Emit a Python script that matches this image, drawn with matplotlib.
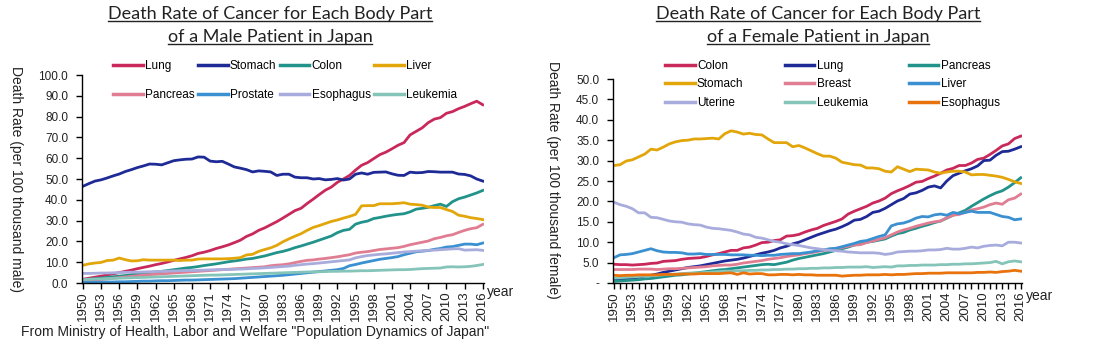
import matplotlib
matplotlib.use('Agg')
import matplotlib.pyplot as plt
from matplotlib.lines import Line2D
from matplotlib.ticker import MultipleLocator, FuncFormatter

years = list(range(1950, 2017))

# ---- male death rates (per 100 thousand) ----
m_lung = [1.8, 2.3, 2.8, 3.3, 3.9, 4.4, 5.0, 5.6, 6.2, 6.9,
          7.5, 8.1, 8.8, 9.4, 10.1, 10.9, 11.6, 12.3, 13.1, 14.2,
          14.8, 15.6, 16.6, 17.4, 18.3, 19.4, 20.6, 22.4, 23.6, 25.3,
          26.5, 28.0, 29.5, 31.2, 33.0, 34.8, 35.9, 38.2, 40.3, 42.5,
          44.6, 46.1, 48.4, 50.0, 51.7, 54.3, 56.6, 57.9, 59.8, 61.7,
          62.9, 64.5, 66.2, 67.5, 71.2, 72.9, 74.6, 77.1, 78.8, 79.5,
          81.6, 82.4, 83.8, 84.9, 86.2, 87.4, 85.7]
m_stomach = [46.5, 47.8, 49.0, 49.6, 50.5, 51.5, 52.4, 53.6, 54.5, 55.5,
             56.3, 57.2, 57.1, 56.8, 57.8, 58.8, 59.2, 59.5, 59.6, 60.6,
             60.5, 58.6, 58.3, 58.5, 57.2, 55.8, 55.2, 54.5, 53.4, 53.9,
             53.7, 53.4, 51.7, 52.3, 52.3, 50.9, 50.6, 50.6, 50.0, 50.2,
             49.6, 49.8, 50.2, 49.5, 50.0, 52.3, 52.9, 52.3, 53.2, 53.3,
             53.4, 52.5, 51.8, 51.7, 53.3, 53.0, 53.1, 53.6, 53.5, 53.3,
             53.3, 53.3, 52.4, 52.2, 51.5, 50.0, 49.0]
m_colon = [1.5, 1.8, 2.1, 2.4, 2.7, 3.0, 3.3, 3.6, 4.0, 4.3,
           4.7, 5.0, 5.3, 5.6, 6.0, 6.4, 6.8, 7.2, 7.5, 7.9,
           8.4, 8.8, 9.2, 9.7, 10.2, 10.6, 11.0, 11.5, 11.8, 12.4,
           13.0, 13.8, 14.6, 15.2, 16.0, 17.0, 17.8, 18.7, 19.6, 20.6,
           21.6, 22.6, 24.2, 25.3, 25.8, 28.3, 29.2, 29.8, 31.0, 31.5,
           32.1, 32.6, 33.0, 33.3, 34.2, 35.5, 35.9, 36.4, 37.2, 37.9,
           36.8, 39.1, 40.5, 41.3, 42.3, 43.3, 44.5]
m_liver = [8.5, 9.2, 9.6, 9.9, 10.8, 11.0, 12.0, 11.2, 10.6, 10.7,
           11.2, 11.0, 11.0, 11.0, 11.0, 11.0, 10.8, 11.0, 11.0, 11.5,
           11.6, 11.6, 11.6, 11.6, 11.7, 11.9, 12.2, 13.5, 13.8, 15.2,
           16.1, 16.9, 18.1, 19.8, 21.2, 22.5, 23.7, 25.3, 26.7, 27.6,
           28.6, 29.6, 30.3, 31.2, 32.0, 33.0, 37.1, 37.2, 37.2, 38.1,
           38.1, 38.1, 38.3, 38.6, 37.9, 37.7, 37.4, 36.5, 36.3, 36.3,
           35.3, 34.4, 32.6, 32.1, 31.4, 31.0, 30.5]
m_pancreas = [1.0, 1.2, 1.4, 1.7, 2.0, 2.3, 2.6, 2.9, 3.2, 3.5,
              3.8, 4.0, 4.2, 4.4, 4.6, 4.8, 5.0, 5.2, 5.4, 5.6,
              5.8, 6.0, 6.2, 6.4, 6.6, 6.8, 7.0, 7.2, 7.4, 7.6,
              7.8, 8.3, 8.6, 8.8, 9.2, 9.8, 10.4, 10.9, 11.1, 11.5,
              11.8, 12.2, 12.6, 13.1, 13.6, 14.4, 14.8, 15.1, 15.6, 16.1,
              16.4, 16.7, 17.0, 17.6, 18.4, 19.0, 19.6, 20.2, 21.3, 21.9,
              22.7, 23.2, 24.3, 25.3, 26.1, 26.6, 28.2]
m_prostate = [0.3, 0.3, 0.4, 0.4, 0.5, 0.5, 0.6, 0.6, 0.7, 0.8,
              0.9, 0.9, 1.0, 1.1, 1.1, 1.2, 1.3, 1.4, 1.4, 1.5,
              1.6, 1.7, 1.8, 1.9, 2.0, 2.1, 2.3, 2.5, 2.7, 2.9,
              3.1, 3.3, 3.5, 3.7, 4.0, 4.3, 4.6, 4.9, 5.2, 5.5,
              5.8, 6.1, 6.4, 7.0, 8.3, 8.9, 9.6, 10.2, 10.8, 11.4,
              11.8, 12.2, 12.7, 13.6, 14.3, 15.0, 15.3, 15.6, 16.2, 16.6,
              17.3, 17.5, 18.1, 18.7, 18.7, 18.4, 19.2]
m_esophagus = [4.6, 4.6, 4.7, 4.8, 4.8, 4.9, 5.0, 5.1, 5.2, 5.2,
               5.3, 5.4, 5.5, 5.6, 5.7, 5.8, 5.9, 6.0, 6.0, 6.1,
               6.2, 6.3, 6.4, 6.5, 6.5, 6.6, 6.7, 6.8, 7.0, 7.1,
               7.3, 7.5, 7.7, 7.9, 8.1, 8.5, 8.8, 9.1, 9.3, 9.6,
               9.9, 10.2, 10.5, 10.8, 11.1, 12.1, 12.7, 13.2, 13.5, 13.8,
               14.0, 14.3, 14.6, 14.9, 15.1, 15.3, 15.5, 15.7, 15.8, 16.0,
               16.2, 16.4, 16.5, 15.8, 15.9, 16.0, 15.7]
m_leukemia = [1.6, 1.8, 1.9, 2.0, 2.1, 2.2, 2.3, 2.4, 2.5, 2.6,
              2.7, 2.8, 2.9, 3.0, 3.1, 3.2, 3.3, 3.4, 3.5, 3.6,
              3.7, 3.8, 3.8, 3.9, 4.0, 4.1, 4.2, 4.3, 4.4, 4.5,
              4.6, 4.7, 4.8, 4.9, 5.0, 5.1, 5.2, 5.3, 5.4, 5.4,
              5.5, 5.6, 5.6, 5.7, 5.7, 5.8, 5.9, 5.9, 6.0, 6.1,
              6.2, 6.3, 6.4, 6.4, 6.5, 6.7, 6.9, 7.0, 7.1, 7.2,
              7.7, 7.8, 7.7, 7.8, 8.0, 8.4, 8.9]

# ---- female death rates (per 100 thousand) ----
f_colon = [4.6, 4.5, 4.5, 4.4, 4.5, 4.6, 4.8, 4.9, 5.3, 5.4,
           5.5, 5.8, 6.0, 6.1, 6.2, 6.5, 6.9, 7.2, 7.6, 8.0,
           8.0, 8.6, 8.8, 9.3, 9.9, 10.0, 10.4, 10.6, 11.5, 11.6,
           11.9, 12.5, 13.0, 13.4, 14.1, 14.6, 15.1, 15.7, 16.9, 17.6,
           18.2, 18.8, 19.6, 20.1, 20.8, 21.9, 22.6, 23.2, 23.9, 24.7,
           24.9, 25.6, 26.2, 26.9, 27.7, 28.1, 28.8, 28.8, 29.4, 30.3,
           30.6, 31.5, 32.5, 33.6, 34.1, 35.4, 36.0]
f_lung = [0.6, 0.8, 1.0, 1.2, 1.4, 1.7, 1.9, 2.2, 2.6, 2.9,
          3.2, 3.5, 3.8, 4.0, 4.2, 4.5, 4.8, 5.1, 5.4, 5.6,
          5.8, 6.1, 6.5, 6.9, 7.3, 7.6, 8.0, 8.6, 9.0, 9.6,
          10.0, 10.6, 11.2, 11.8, 12.3, 12.8, 13.2, 13.8, 14.5, 15.4,
          15.6, 16.3, 17.3, 17.6, 18.3, 19.2, 20.1, 20.7, 21.8, 22.1,
          22.7, 23.5, 23.8, 23.3, 25.0, 26.3, 26.9, 27.5, 28.0, 28.7,
          30.0, 30.1, 31.3, 32.2, 32.3, 32.8, 33.4]
f_pancreas = [0.4, 0.5, 0.6, 0.7, 0.8, 1.0, 1.1, 1.3, 1.5, 1.7,
              1.9, 2.0, 2.2, 2.4, 2.6, 2.8, 3.0, 3.2, 3.3, 3.5,
              3.7, 3.9, 4.1, 4.3, 4.5, 4.6, 4.5, 4.8, 5.1, 5.6,
              6.0, 6.3, 6.6, 6.9, 7.2, 7.6, 8.0, 8.4, 8.8, 9.3,
              9.6, 10.0, 10.2, 10.5, 10.8, 11.5, 12.1, 12.4, 13.0, 13.4,
              13.9, 14.3, 14.8, 15.2, 15.9, 16.6, 17.2, 17.8, 18.8, 19.7,
              20.6, 21.4, 22.1, 22.6, 23.5, 24.6, 25.8]
f_stomach = [28.8, 29.0, 29.9, 30.2, 30.9, 31.6, 32.8, 32.6, 33.3, 34.1,
             34.6, 34.9, 35.0, 35.3, 35.3, 35.4, 35.5, 35.3, 36.6, 37.3,
             37.0, 36.5, 36.7, 36.4, 36.3, 35.3, 34.4, 34.4, 34.4, 33.4,
             33.7, 33.1, 32.4, 31.7, 31.1, 31.1, 30.6, 29.6, 29.3, 29.0,
             28.9, 28.2, 28.2, 28.0, 27.4, 27.2, 28.5, 27.9, 27.3, 27.9,
             27.8, 27.7, 27.2, 26.9, 27.2, 27.4, 27.4, 27.2, 26.5, 26.6,
             26.6, 26.4, 26.2, 25.9, 25.4, 24.8, 24.4]
f_breast = [3.3, 3.3, 3.3, 3.3, 3.4, 3.4, 3.4, 3.3, 3.4, 3.5,
            3.5, 3.6, 3.7, 3.8, 3.9, 4.0, 4.2, 4.3, 4.4, 4.4,
            4.6, 4.9, 5.1, 5.3, 5.5, 5.8, 6.0, 6.2, 6.5, 6.7,
            6.9, 7.2, 7.4, 7.7, 8.0, 8.2, 8.5, 8.7, 9.0, 9.3,
            9.4, 9.9, 10.3, 10.7, 11.1, 11.8, 12.5, 13.0, 13.4, 13.9,
            14.3, 14.7, 15.0, 15.2, 16.0, 16.6, 16.8, 17.3, 17.9, 18.2,
            18.6, 19.2, 19.6, 19.3, 20.4, 20.8, 21.8]
f_liver = [6.2, 6.9, 7.0, 7.2, 7.6, 8.0, 8.4, 7.9, 7.6, 7.5,
           7.5, 7.4, 7.1, 7.1, 7.2, 7.0, 7.0, 7.0, 7.0, 6.9,
           6.9, 6.9, 6.8, 6.8, 6.7, 6.8, 6.8, 7.0, 7.1, 7.2,
           7.2, 7.4, 7.6, 7.9, 8.1, 8.4, 8.5, 8.9, 9.3, 9.7,
           10.2, 10.4, 10.9, 11.4, 11.8, 14.0, 14.5, 14.7, 15.2, 15.9,
           16.3, 16.2, 16.7, 16.9, 16.6, 17.3, 17.0, 17.3, 17.6, 17.3,
           17.3, 17.3, 16.8, 16.3, 16.1, 15.5, 15.7]
f_uterine = [19.8, 19.2, 18.8, 18.2, 17.2, 17.2, 16.1, 16.0, 15.6, 15.2,
             15.0, 14.9, 14.5, 14.3, 14.2, 13.7, 13.4, 13.3, 13.1, 12.9,
             12.5, 12.0, 11.8, 11.2, 11.0, 10.6, 10.2, 10.0, 9.6, 9.4,
             9.2, 8.9, 8.6, 8.4, 8.2, 8.0, 7.9, 7.8, 7.6, 7.5,
             7.4, 7.4, 7.4, 7.3, 7.0, 7.2, 7.6, 7.7, 7.8, 7.8,
             7.9, 8.1, 8.1, 8.2, 8.5, 8.3, 8.3, 8.5, 8.8, 8.6,
             9.0, 9.2, 9.3, 9.1, 10.0, 10.0, 9.8]
f_leukemia = [1.2, 1.3, 1.4, 1.5, 1.6, 1.7, 1.8, 1.9, 2.0, 2.1,
              2.2, 2.3, 2.4, 2.5, 2.5, 2.6, 2.7, 2.8, 2.9, 2.9,
              3.0, 3.0, 3.1, 3.1, 3.2, 3.2, 3.3, 3.3, 3.4, 3.4,
              3.5, 3.5, 3.6, 3.6, 3.7, 3.7, 3.8, 3.8, 3.9, 3.9,
              3.9, 4.0, 3.8, 3.9, 4.0, 3.9, 4.2, 4.2, 4.3, 4.3,
              4.4, 4.4, 4.4, 4.5, 4.5, 4.6, 4.6, 4.7, 4.7, 4.8,
              4.9, 5.0, 5.3, 4.7, 5.2, 5.4, 5.2]
f_esophagus = [1.9, 1.8, 1.9, 1.9, 2.0, 2.0, 2.0, 2.0, 2.1, 2.1,
               2.1, 2.2, 2.2, 2.2, 2.3, 2.3, 2.3, 2.3, 2.4, 2.5,
               2.1, 2.5, 2.2, 2.3, 2.3, 2.0, 2.0, 2.1, 2.1, 2.0,
               2.1, 2.0, 2.0, 1.9, 1.9, 1.9, 1.9, 1.7, 1.8, 1.9,
               1.9, 2.0, 2.0, 2.0, 2.1, 2.0, 2.1, 2.1, 2.2, 2.3,
               2.3, 2.4, 2.4, 2.4, 2.5, 2.5, 2.5, 2.5, 2.5, 2.6,
               2.6, 2.7, 2.6, 2.8, 2.9, 3.1, 2.9]

male_labels = ['Lung', 'Stomach', 'Colon', 'Liver',
               'Pancreas', 'Prostate', 'Esophagus', 'Leukemia']
male_series = [m_lung, m_stomach, m_colon, m_liver,
               m_pancreas, m_prostate, m_esophagus, m_leukemia]
female_labels = ['Colon', 'Lung', 'Pancreas', 'Stomach', 'Breast',
                 'Liver', 'Uterine', 'Leukemia', 'Esophagus']
female_series = [f_colon, f_lung, f_pancreas, f_stomach, f_breast,
                 f_liver, f_uterine, f_leukemia, f_esophagus]

RED = '#C9295A'
NAVY = '#1E2A96'
TEAL = '#22938B'
GOLD = '#E2A60A'
PINK = '#E07D92'
BLUE = '#3A90D0'
LAV = '#A8ACDC'
MINT = '#85C4B8'
ORANGE = '#E8720C'

male_colors = [RED, NAVY, TEAL, GOLD, PINK, BLUE, LAV, MINT]
female_colors = [RED, NAVY, TEAL, GOLD, PINK, BLUE, LAV, MINT, ORANGE]

plt.rcParams['font.family'] = ['Liberation Sans', 'DejaVu Sans']

W, H = 1093, 348
fig = plt.figure(figsize=(W / 100, H / 100), dpi=100)


def px(x0, y0, x1, y1):
    # pixel box -> figure fraction [left, bottom, width, height]
    return [x0 / W, 1 - y1 / H, (x1 - x0) / W, (y1 - y0) / H]


ax1 = fig.add_axes(px(82, 75, 484, 283))
ax2 = fig.add_axes(px(613, 79, 1022, 283))


def style_axis(ax, ymax, ystep, fmt, minor_years):
    ax.set_xlim(1949.85, 2016.2)
    ax.set_ylim(0, ymax)
    for s in ['top', 'right']:
        ax.spines[s].set_visible(False)
    for s in ['left', 'bottom']:
        ax.spines[s].set_linewidth(1.0)
        ax.spines[s].set_color('black')
    ax.xaxis.set_major_locator(MultipleLocator(3))
    if minor_years:
        ax.xaxis.set_minor_locator(MultipleLocator(1))
        ax.tick_params(axis='x', which='minor', direction='out', length=4,
                       width=1, color='black')
    ax.yaxis.set_major_locator(MultipleLocator(ystep))
    ax.yaxis.set_major_formatter(FuncFormatter(fmt))
    ax.tick_params(axis='x', which='major', direction='out', length=4, width=1,
                   labelrotation=90, labelsize=9.5, pad=2, colors='black',
                   labelcolor='#222222')
    ax.tick_params(axis='y', direction='out', length=4, width=1, labelsize=8.5,
                   pad=6, colors='black', labelcolor='#222222')


for vals, lab, c in zip(male_series, male_labels, male_colors):
    ax1.plot(years, vals, color=c, lw=2.0, label=lab, solid_joinstyle='round')
for vals, lab, c in zip(female_series, female_labels, female_colors):
    ax2.plot(years, vals, color=c, lw=2.0, label=lab, solid_joinstyle='round')

style_axis(ax1, 100, 10, lambda v, p: '%.1f' % v, False)
style_axis(ax2, 50, 5, lambda v, p: '-' if v == 0 else '%.1f' % v, True)


def row_major(ax, ncol):
    # legend fills columns first; reorder so entries read across rows
    h, l = ax.get_legend_handles_labels()
    nrow = len(h) // ncol
    order = [r * ncol + c for c in range(ncol) for r in range(nrow)]
    return [h[i] for i in order], [l[i] for i in order]


leg1 = fig.legend(*row_major(ax1, 4), ncol=4, frameon=False,
                  loc='upper left', bbox_to_anchor=(113 / W, 1 - 60 / H),
                  fontsize=8.5, handlelength=2.5, handletextpad=0.2,
                  columnspacing=0.3, labelspacing=1.45, borderpad=0,
                  borderaxespad=0)
leg2 = fig.legend(*row_major(ax2, 3), ncol=3, frameon=False,
                  loc='upper left', bbox_to_anchor=(665 / W, 1 - 60 / H),
                  fontsize=8.5, handlelength=2.5, handletextpad=0.2,
                  columnspacing=3.5, labelspacing=0.55, borderpad=0,
                  borderaxespad=0)
for leg in (leg1, leg2):
    for h in leg.legend_handles:
        h.set_linewidth(2.5)

# axis labels
fig.text(16 / W, 1 - 179 / H, 'Death Rate (per 100 thousand male)',
         rotation=-90, ha='center', va='center', fontsize=10, color='#222222')
fig.text(553 / W, 1 - 180 / H, 'Death Rate (per 100 thousand female)',
         rotation=-90, ha='center', va='center', fontsize=10, color='#222222')
fig.text(487 / W, 1 - 292 / H, 'year', ha='left', va='center', fontsize=10,
         color='#222222')
fig.text(1026 / W, 1 - 296 / H, 'year', ha='left', va='center', fontsize=10,
         color='#222222')
fig.text(255 / W, 1 - 332 / H,
         'From Ministry of Health, Labor and Welfare "Population Dynamics of Japan"',
         ha='center', va='center', fontsize=10, color='#222222')

# titles (each line underlined)
title_lines = [
    (270, 14, 'Death Rate of Cancer for Each Body Part'),
    (270, 37, 'of a Male Patient in Japan'),
    (818, 14, 'Death Rate of Cancer for Each Body Part'),
    (818, 37, 'of a Female Patient in Japan'),
]
title_texts = []
for cx, cy, s in title_lines:
    t = fig.text(cx / W, 1 - cy / H, s, ha='center', va='center',
                 fontsize=13, family=['Lato', 'DejaVu Sans'], color='#222222')
    title_texts.append(t)

fig.canvas.draw()
renderer = fig.canvas.get_renderer()
for t in title_texts:
    bb = t.get_window_extent(renderer).transformed(fig.transFigure.inverted())
    yline = bb.y0 + 1.5 / H
    fig.add_artist(Line2D([bb.x0, bb.x1], [yline, yline], transform=fig.transFigure,
                          color='#222222', lw=1.0))

fig.savefig('out.png', dpi=100)
